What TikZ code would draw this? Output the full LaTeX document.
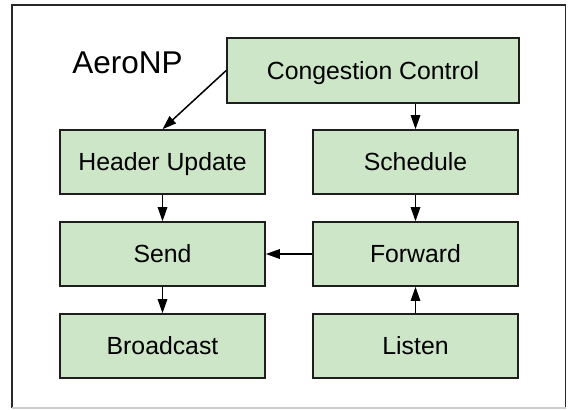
\documentclass[tikz,border=0pt]{standalone}
\usepackage{fontspec}
\setmainfont{Liberation Sans}
\usetikzlibrary{arrows.meta}
\definecolor{boxfill}{RGB}{205,230,200}
\definecolor{boxline}{RGB}{30,30,30}
\definecolor{frameline}{RGB}{40,40,40}
\definecolor{framebottom}{RGB}{205,205,205}
\begin{document}
\begin{tikzpicture}[x=1pt,y=-1pt,
  blockbox/.style={draw=boxline,fill=boxfill,line width=1.6pt,minimum height=64pt,minimum width=205pt,
    inner sep=0pt,font=\fontsize{24.8}{28}\selectfont,text height=17.6pt,text depth=0pt},
  flow/.style={line width=1.5pt,draw=black,-{Triangle[length=14pt,width=9.5pt]}}]
\useasboundingbox (0,0) rectangle (569,409);
% frame
\draw[frameline,line width=1.5pt] (12,408) -- (12,5) -- (565.5,5) -- (565.5,408);
\draw[framebottom,line width=1.2pt] (12,408) -- (565.5,408);
% title
\node[anchor=base,font=\fontsize{31.5}{36}\selectfont,inner sep=0pt] (title) at (127.5,74) {AeroNP};
% boxes
\node[blockbox,minimum width=292pt,minimum height=65pt] (cc) at (373,70.5) {Congestion Control};
\node[blockbox] (hu) at (162.5,162) {Header Update};
\node[blockbox] (sc) at (415.5,162) {Schedule};
\node[blockbox] (sd) at (162.5,254) {Send};
\node[blockbox] (fw) at (415.5,254) {Forward};
\node[blockbox] (bc) at (162.5,346) {Broadcast};
\node[blockbox] (li) at (415.5,346) {Listen};
% connectors
\draw[flow] (cc.west) -- (hu.north);
\draw[flow] (cc.south -| sc.north) -- (sc.north);
\draw[flow] (hu) -- (sd);
\draw[flow] (sc) -- (fw);
\draw[flow] (fw) -- (sd);
\draw[flow] (sd) -- (bc);
\draw[flow] (li) -- (fw);
\end{tikzpicture}
\end{document}
